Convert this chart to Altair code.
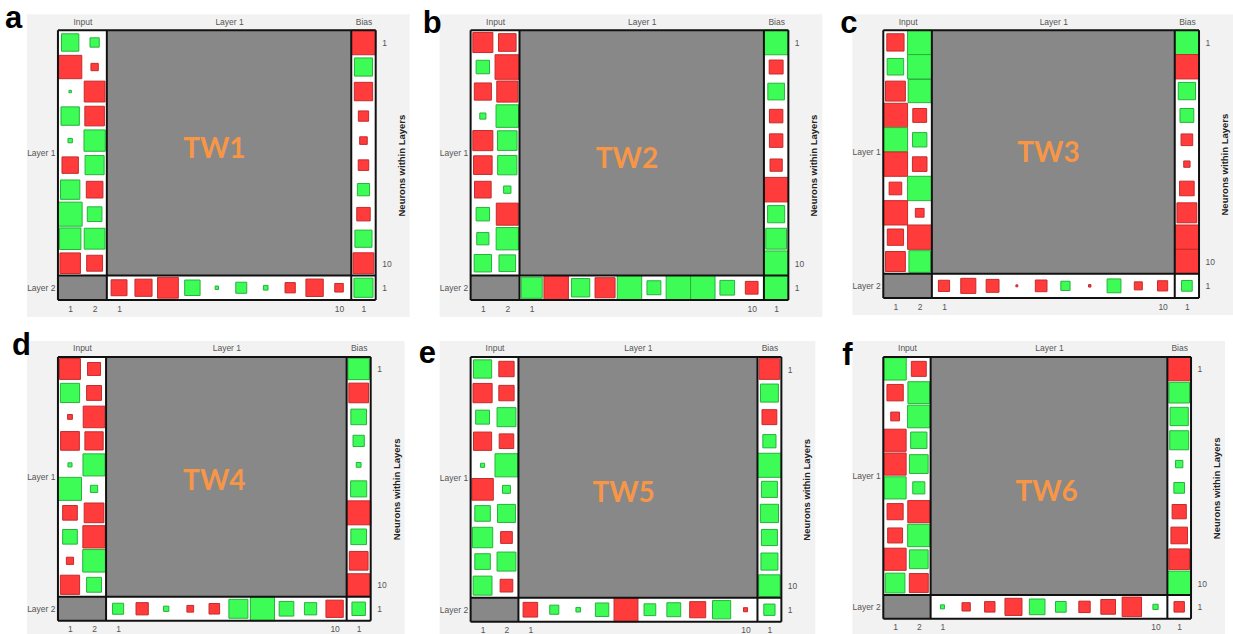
import altair as alt
import pandas as pd

# Network layout: 2 inputs -> 10 hidden neurons (Layer 1) -> 1 output (Layer 2)
N_IN = 2
N_HID = 10
COL_BIAS = N_IN + N_HID + 1      # column of the bias weights
ROW_OUT = N_HID + 1              # row of the Layer 2 neuron

GREEN, GREEN_EDGE = "#3dfc55", "#27b23c"
RED, RED_EDGE = "#ff3b3b", "#c42c2c"
BLOCK_GRAY = "#888888"
PANEL_BG = "#f2f2f2"
TAG_COLOR = "#f79646"

# Signed weights; square side is proportional to |w| (1.0 fills the cell)
TW1_INPUT_1 = [0.71, -0.95, 0.10, 0.75, 0.18, -0.67, 0.79, 0.98, 0.88, -0.84]
TW1_INPUT_2 = [0.38, -0.30, -0.85, -0.80, 0.87, 0.78, -0.68, 0.60, 0.85, -0.65]
TW1_BIAS_1 = [-1.0, 0.74, -0.75, -0.42, -0.31, -0.43, 0.50, -0.55, 0.70, -0.85]
TW1_LAYER_2 = [-0.65, -0.70, -0.85, 0.63, 0.14, 0.45, 0.19, -0.42, -0.71, -0.35]
TW1_BIAS_2 = 0.78

TW2_INPUT_1 = [-0.82, 0.55, -0.70, 0.25, -0.82, -0.76, -0.68, 0.55, 0.50, 0.71]
TW2_INPUT_2 = [-0.72, -1.0, -0.86, 0.92, 0.80, 0.79, 0.30, -0.90, 0.91, 0.68]
TW2_BIAS_1 = [1.0, -0.57, 0.68, -0.55, -0.55, -0.50, -1.0, 0.70, 0.85, 1.0]
TW2_LAYER_2 = [0.86, -1.0, 0.75, -0.82, 1.0, 0.57, 1.0, 1.0, 0.60, -0.52]
TW2_BIAS_2 = 1.0

TW3_INPUT_1 = [-0.71, 0.68, -0.82, -1.0, 1.0, -1.0, -0.52, -1.0, -0.67, -0.82]
TW3_INPUT_2 = [1.0, 1.0, 0.95, -0.57, 0.59, -0.60, 1.0, -0.36, -1.0, 0.89]
TW3_BIAS_1 = [1.0, -1.0, 0.71, 0.57, -0.48, -0.26, -0.60, -0.82, -1.0, -1.0]
TW3_LAYER_2 = [-0.46, -0.62, -0.53, -0.08, -0.48, 0.38, -0.10, 0.57, -0.33, -0.42]
TW3_BIAS_2 = 0.44

TW4_INPUT_1 = [-0.87, 0.80, -0.20, -0.78, 0.17, 0.96, -0.61, 0.61, -0.30, -0.80]
TW4_INPUT_2 = [-0.54, -0.62, -0.90, -0.76, 0.92, 0.30, -0.82, -0.93, 0.94, 0.62]
TW4_BIAS_1 = [0.89, -0.82, 0.65, 0.47, 0.20, 0.67, -1.0, 0.65, -0.78, -0.92]
TW4_LAYER_2 = [0.46, -0.51, 0.22, -0.28, -0.44, 0.79, 1.0, 0.61, 0.51, -0.72]
TW4_BIAS_2 = 0.56

TW5_INPUT_1 = [0.76, -0.80, 0.58, -0.76, 0.17, -0.90, 0.65, 0.85, 0.65, 0.79]
TW5_INPUT_2 = [-0.64, -0.64, 0.79, -0.61, 0.96, 0.33, 0.75, -0.49, 0.79, -0.53]
TW5_BIAS_1 = [-0.86, 0.75, -0.62, 0.55, 1.0, 0.67, 0.76, 0.67, 0.71, 0.90]
TW5_LAYER_2 = [-0.61, 0.38, 0.19, 0.56, -1.0, 0.49, 0.58, -0.67, 0.76, -0.17]
TW5_BIAS_2 = 0.47

TW6_INPUT_1 = [0.94, -0.69, -0.37, -0.93, -0.93, 0.93, -0.68, -0.63, -0.93, 0.83]
TW6_INPUT_2 = [-0.63, 0.92, 0.95, 0.69, 0.79, 0.51, -0.93, 0.94, 0.79, -0.80]
TW6_BIAS_1 = [-1.0, 0.87, 0.77, 0.80, 0.31, 0.45, -0.60, -0.70, -0.87, 1.0]
TW6_LAYER_2 = [0.17, -0.35, -0.44, -0.72, 0.66, 0.45, -0.48, -0.62, -0.82, 0.22]
TW6_BIAS_2 = -0.44

PANEL_LETTERS = ["a", "b", "c", "d", "e", "f"]
PANEL_TAGS = ["TW1", "TW2", "TW3", "TW4", "TW5", "TW6"]
# position of the tag inside the grid (column, row)
TAG_COL = [6.9, 6.9, 7.3, 7.0, 6.9, 7.4]
TAG_ROW = [5.4, 5.8, 5.6, 5.7, 6.2, 6.2]
# plot-area size of each panel
PANEL_W = [318, 318, 316, 313, 311, 308]
PANEL_H = [270, 270, 268, 264, 265, 262]
# letter offset from the plot corner (left, baseline)
LETTER_DX = [-53, -48, -43, -46, -52, -41]
LETTER_DY = [-2, 3, 3, -2, 6, 8]

WEIGHTS = [
    (TW1_INPUT_1, TW1_INPUT_2, TW1_BIAS_1, TW1_LAYER_2, TW1_BIAS_2),
    (TW2_INPUT_1, TW2_INPUT_2, TW2_BIAS_1, TW2_LAYER_2, TW2_BIAS_2),
    (TW3_INPUT_1, TW3_INPUT_2, TW3_BIAS_1, TW3_LAYER_2, TW3_BIAS_2),
    (TW4_INPUT_1, TW4_INPUT_2, TW4_BIAS_1, TW4_LAYER_2, TW4_BIAS_2),
    (TW5_INPUT_1, TW5_INPUT_2, TW5_BIAS_1, TW5_LAYER_2, TW5_BIAS_2),
    (TW6_INPUT_1, TW6_INPUT_2, TW6_BIAS_1, TW6_LAYER_2, TW6_BIAS_2),
]

LABEL_FONT = "Liberation Sans"


def weight_table(in1, in2, bias1, layer2, bias2):
    recs = []
    for r in range(N_HID):
        recs.append({"col": 1, "row": r + 1, "w": in1[r]})
        recs.append({"col": 2, "row": r + 1, "w": in2[r]})
        recs.append({"col": COL_BIAS, "row": r + 1, "w": bias1[r]})
    for c in range(N_HID):
        recs.append({"col": N_IN + 1 + c, "row": ROW_OUT, "w": layer2[c]})
    recs.append({"col": COL_BIAS, "row": ROW_OUT, "w": bias2})
    return pd.DataFrame(recs)


# whole weight grid, and the blocks with no connections
GRID = pd.DataFrame([{"x0": 0.5, "x1": COL_BIAS + 0.5, "y0": 0.5, "y1": ROW_OUT + 0.5}])
BLOCKS = pd.DataFrame([
    {"x0": N_IN + 0.5, "x1": N_IN + N_HID + 0.5, "y0": 0.5, "y1": N_HID + 0.5},
    {"x0": 0.5, "x1": N_IN + 0.5, "y0": N_HID + 0.5, "y1": ROW_OUT + 0.5},
])
# section borders
LINES = pd.DataFrame(
    [{"x0": v, "x1": v, "y0": 0.5, "y1": ROW_OUT + 0.5} for v in (0.5, N_IN + 0.5, N_IN + N_HID + 0.5, COL_BIAS + 0.5)]
    + [{"x0": 0.5, "x1": COL_BIAS + 0.5, "y0": v, "y1": v} for v in (0.5, N_HID + 0.5, ROW_OUT + 0.5)]
)
ONE = pd.DataFrame([{"k": 0}])

AX = dict(domain=False, ticks=False, grid=False, title=None, labelFont=LABEL_FONT, zindex=2,
          labelFontSize=8.5, labelColor="#555555", labelOverlap=False, labelFlush=False)


def panel(i):
    w, h = PANEL_W[i], PANEL_H[i]
    xs = alt.Scale(domain=[0.5, COL_BIAS + 0.5], nice=False, zero=False)
    ys = alt.Scale(domain=[0.5, ROW_OUT + 0.5], nice=False, zero=False, reverse=True)

    bg = alt.Chart(ONE).mark_rect(color=PANEL_BG).encode(
        x=alt.value(-31), x2=alt.value(w + 34), y=alt.value(-16), y2=alt.value(h + 17)
    )

    grid = alt.Chart(GRID).mark_rect(color="white").encode(
        x=alt.X("x0:Q", scale=xs, axis=alt.Axis(
            orient="bottom", values=[1, 2, N_IN + 1, N_IN + N_HID, COL_BIAS], labelPadding=4,
            labelExpr=f"datum.value == {COL_BIAS} ? '1' : datum.value > {N_IN} ? format(datum.value - {N_IN}, 'd') : format(datum.value, 'd')",
            **AX)),
        x2="x1:Q",
        y=alt.Y("y0:Q", scale=ys, axis=alt.Axis(
            orient="left", values=[(N_HID + 1) / 2, ROW_OUT], labelPadding=3,
            labelExpr=f"datum.value == {ROW_OUT} ? 'Layer 2' : 'Layer 1'", **AX)),
        y2="y1:Q",
    )

    blocks = alt.Chart(BLOCKS).mark_rect(color=BLOCK_GRAY).encode(
        x=alt.X("x0:Q", scale=xs, axis=alt.Axis(
            orient="top", values=[(N_IN + 1) / 2, N_IN + (N_HID + 1) / 2, COL_BIAS], labelPadding=4,
            labelExpr=f"datum.value < {N_IN} ? 'Input' : datum.value < {COL_BIAS} ? 'Layer 1' : 'Bias'",
            **AX)),
        x2="x1:Q",
        y=alt.Y("y0:Q", scale=ys, axis=alt.Axis(
            orient="right", values=[1, N_HID, ROW_OUT], labelPadding=6,
            labelExpr=f"datum.value == {ROW_OUT} ? '1' : format(datum.value, 'd')",
            **{**AX, "title": "Neurons within Layers"},
            titleFont=LABEL_FONT, titleFontSize=9.5, titleFontWeight="bold", titleColor="#222222",
            titleAngle=270, titleBaseline="top", titlePadding=5)),
        y2="y1:Q",
    )

    sign_fill = alt.Scale(domain=["pos", "neg"], range=[GREEN, RED])
    sign_edge = alt.Scale(domain=["pos", "neg"], range=[GREEN_EDGE, RED_EDGE])
    squares = alt.Chart(weight_table(*WEIGHTS[i])).transform_calculate(
        side="abs(datum.w)",
        sign="datum.w >= 0 ? 'pos' : 'neg'",
        x0="datum.col - datum.side / 2",
        x1="datum.col + datum.side / 2",
        y0="datum.row - datum.side / 2",
        y1="datum.row + datum.side / 2",
    ).mark_rect(strokeWidth=1).encode(
        x=alt.X("x0:Q", scale=xs, axis=None),
        x2="x1:Q",
        y=alt.Y("y0:Q", scale=ys, axis=None),
        y2="y1:Q",
        fill=alt.Fill("sign:N", scale=sign_fill, legend=None),
        stroke=alt.Stroke("sign:N", scale=sign_edge, legend=None),
    )

    lines = alt.Chart(LINES).mark_rule(color="#111111", strokeWidth=2).encode(
        x=alt.X("x0:Q", scale=xs, axis=None), x2="x1:Q",
        y=alt.Y("y0:Q", scale=ys, axis=None), y2="y1:Q",
    )

    tag = alt.Chart(pd.DataFrame([{"c": TAG_COL[i], "r": TAG_ROW[i], "t": PANEL_TAGS[i]}])).mark_text(
        font="Lato", fontSize=28, fontWeight="bold", color=TAG_COLOR, align="center", baseline="middle"
    ).encode(
        x=alt.X("c:Q", scale=xs, axis=None), y=alt.Y("r:Q", scale=ys, axis=None), text="t:N"
    )

    letter = alt.Chart(pd.DataFrame([{"t": PANEL_LETTERS[i]}])).mark_text(
        font=LABEL_FONT, fontSize=31, fontWeight="bold", color="black", align="left", baseline="alphabetic"
    ).encode(x=alt.value(LETTER_DX[i]), y=alt.value(LETTER_DY[i]), text="t:N")

    return alt.layer(bg, grid, blocks, squares, lines, tag, letter).resolve_axis(
        x="independent", y="independent"
    ).properties(width=w, height=h)


chart = alt.concat(
    *[panel(i) for i in range(6)], columns=3, bounds="flush",
    spacing={"row": 57, "column": 95},
).properties(
    padding={"left": 5, "top": 3, "right": 0, "bottom": 0}, background="white"
).configure_view(stroke=None)

chart.save("out.html", embed_options={"renderer": "svg", "actions": False})
